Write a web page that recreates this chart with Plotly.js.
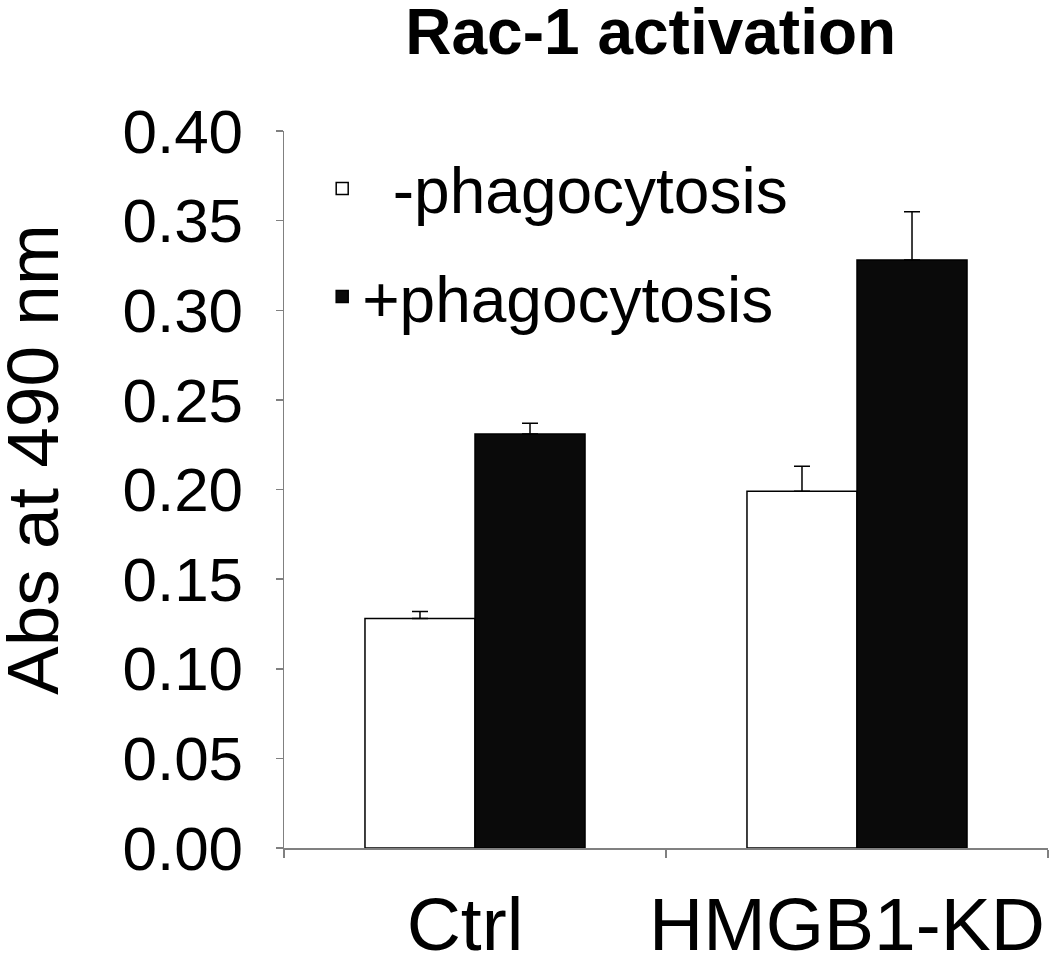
<!DOCTYPE html>
<html>
<head>
<meta charset="utf-8">
<script src="https://cdn.plot.ly/plotly-3.0.1.min.js"></script>
<style>html,body{margin:0;padding:0;background:#fff;}#chart{width:1050px;height:958px;}</style>
</head>
<body>
<div id="chart"></div>
<script>
const categories = ["Ctrl", "HMGB1-KD"];
const seriesNames = ["\u00a0\u2009-phagocytosis", "+phagocytosis"];
const minusPhago = [0.128, 0.199];
const minusPhagoErr = [0.004, 0.014];
const plusPhago = [0.231, 0.328];
const plusPhagoErr = [0.006, 0.027];
const yTickVals = [0, 0.05, 0.10, 0.15, 0.20, 0.25, 0.30, 0.35, 0.40];
const yTickText = ["0.00", "0.05", "0.10", "0.15", "0.20", "0.25", "0.30", "0.35", "0.40"];

const FONT = "Liberation Sans, Arial, sans-serif";

const traces = [
  {
    type: "bar", name: seriesNames[0], x: categories, y: minusPhago,
    legendgroup: "a",
    marker: {color: "#ffffff", line: {color: "#000000", width: 1.5}},
    error_y: {type: "data", array: minusPhagoErr, symmetric: false, arrayminus: [0, 0],
              color: "#000000", thickness: 1.5, width: 8}
  },
  {
    type: "bar", name: seriesNames[1], x: categories, y: plusPhago,
    legendgroup: "b",
    marker: {color: "#0a0a0a", line: {color: "#000000", width: 1.5}},
    error_y: {type: "data", array: plusPhagoErr, symmetric: false, arrayminus: [0, 0],
              color: "#000000", thickness: 1.5, width: 8}
  }
];

const layout = {
  width: 1050, height: 958,
  margin: {l: 284, r: 2, t: 131, b: 110},
  paper_bgcolor: "#ffffff", plot_bgcolor: "#ffffff",
  font: {family: FONT, color: "#000000"},
  barmode: "group", bargap: 0.424, bargroupgap: 0,
  title: {
    text: "<b>Rac-1 activation</b>",
    font: {family: FONT, size: 64, color: "#000000"},
    x: 0.48, xref: "paper", xanchor: "center",
    y: 1 - 32/958, yref: "container", yanchor: "middle"
  },
  xaxis: {
    type: "category", range: [-0.5, 1.5],
    showline: true, linecolor: "#808080", linewidth: 1.5,
    ticks: "outside", tickson: "boundaries", ticklen: 8, tickcolor: "#808080", tickwidth: 1.5,
    showgrid: false, zeroline: false, tickangle: 0,
    tickfont: {family: FONT, size: 75, color: "#000000"},
    ticklabelstandoff: 10, ticklabelshift: -10
  },
  yaxis: {
    range: [0, 0.4],
    tickvals: yTickVals, ticktext: yTickText,
    showline: true, linecolor: "#808080", linewidth: 1.5,
    ticks: "outside", ticklen: 7, tickcolor: "#808080", tickwidth: 1.5,
    showgrid: false, zeroline: false,
    tickfont: {family: FONT, size: 62, color: "#000000"},
    ticklabelstandoff: 20
  },
  showlegend: true,
  legend: {
    x: 0.05, xanchor: "left", y: 0.987, yanchor: "top",
    bgcolor: "rgba(0,0,0,0)", borderwidth: 0,
    font: {family: FONT, size: 64, color: "#000000"},
    tracegroupgap: 22, traceorder: "grouped"
  },
  annotations: [
    {
      text: "Abs at 490 nm", textangle: -90, showarrow: false,
      xref: "paper", yref: "paper",
      x: (32 - 284) / 764, y: (848 - 460) / 717,
      xanchor: "center", yanchor: "middle",
      font: {family: FONT, size: 73, color: "#000000"}
    }
  ]
};

Plotly.newPlot("chart", traces, layout, {displayModeBar: false, staticPlot: true});
</script>
</body>
</html>
